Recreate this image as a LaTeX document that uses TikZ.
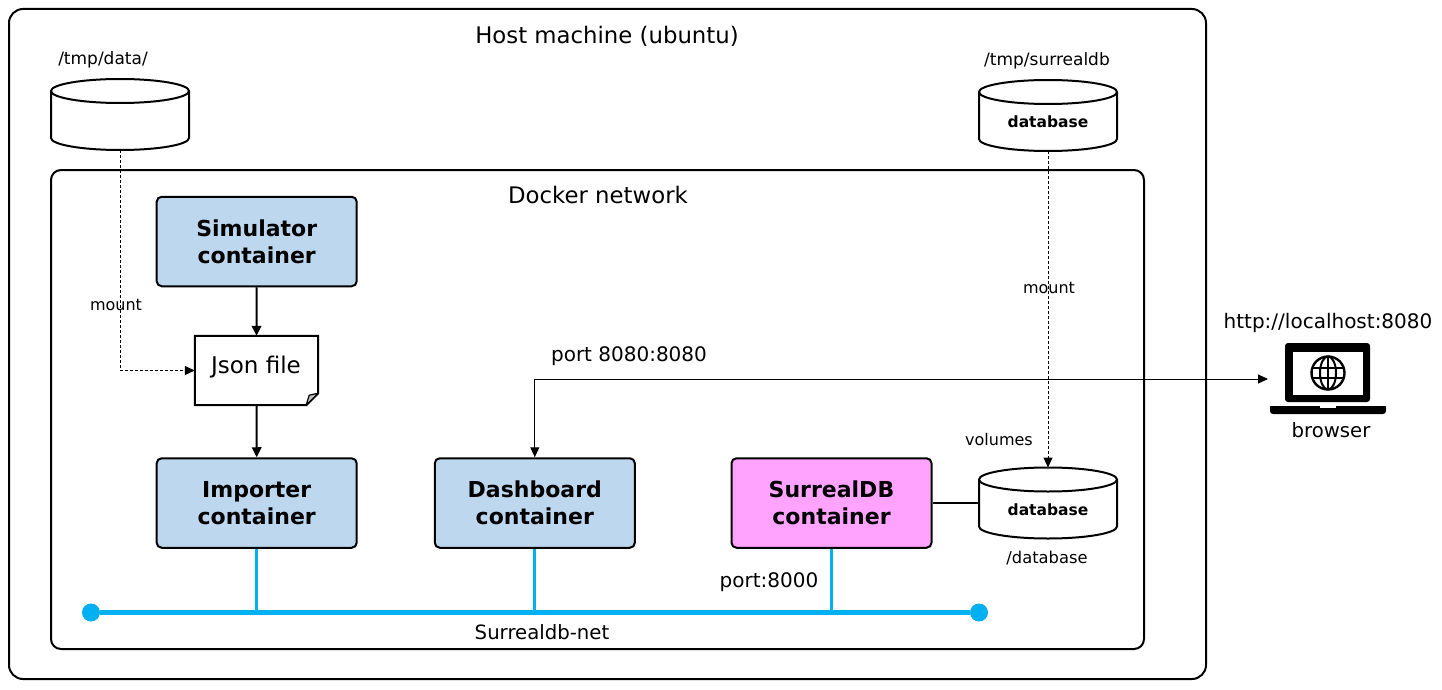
\documentclass[tikz,border=0pt]{standalone}
\usepackage{fontspec}
\setmainfont{DejaVu Sans}
\usetikzlibrary{arrows.meta,calc}
\definecolor{boxblue}{HTML}{BDD7EE}
\definecolor{boxpink}{HTML}{FFA3FF}
\definecolor{netblue}{HTML}{00B0F0}
\newcommand{\fsz}[1]{\fontsize{#1}{#1}\selectfont}
\newcommand{\dbdraw}[1]{%
  \draw[dbline] ($(#1.north west)+(0,12)$) -- ($(#1.south west)+(0,-12)$)
    arc[start angle=180,end angle=360,x radius=69pt,y radius=12pt]
    -- ($(#1.north east)+(0,12)$);
  \draw[dbline] ($(#1.north)+(0,12)$) ellipse (69pt and 12pt);
}
\tikzset{
  x=1pt,y=-1pt,
  frame/.style={draw=black,line width=2pt,rounded corners=#1,fill=none},
  conbox/.style={draw=black,line width=2pt,rounded corners=5pt,minimum width=200pt,minimum height=89.5pt,align=center,inner sep=0pt,font=\fsz{22}\bfseries,text=black},
  bluebox/.style={conbox,fill=boxblue},
  pinkbox/.style={conbox,fill=boxpink},
  dbcyl/.style={rectangle,minimum width=138pt,minimum height=71pt,inner sep=0pt,outer sep=0pt},
  dbline/.style={draw=black,line width=2pt,fill=white},
  txt/.style={inner sep=0pt,text=black,font=\fsz{#1}},
  txtb/.style={inner sep=0pt,text=black,font=\fsz{#1}\bfseries},
  arr/.style={-{Triangle[length=10pt,width=9.5pt]},line width=2pt,black},
  thinarr/.style={-{Triangle[length=10pt,width=9pt]},line width=1pt,black},
  dasharr/.style={thinarr,dash pattern=on 3pt off 2pt},
  link/.style={netblue,line width=3pt},
  bus/.style={netblue,line width=5.5pt},
  busend/.style={circle,fill=netblue,minimum size=18pt,inner sep=0pt},
}
\begin{document}
\begin{tikzpicture}
\useasboundingbox (0,0) rectangle (1442,690);
\fill[white] (0,0) rectangle (1442,690);
\draw[frame=14pt] (9,9) rectangle (1206,679);
\draw[frame=10pt] (51,170) rectangle (1144,649);
\node[txt=22.8] (hostlbl) at (607,36) {Host machine (ubuntu)};
\node[txt=22.8] (dockerlbl) at (598,195) {Docker network};
% cylinders
\node[dbcyl] (cdata) at (120,114.5) {};
\node[dbcyl] (csurreal) at (1048,115.5) {};
\node[dbcyl] (cdb) at (1048,503) {};
\dbdraw{cdata}
\dbdraw{csurreal}
\dbdraw{cdb}
\node[txt=17] (ldata) at (103,60) {/tmp/data/};
\node[txt=17] (lsurreal) at (1047,60.5) {/tmp/surrealdb};
\node[txtb=15.5] (tsurreal) at (1048,122) {database};
\node[txtb=15.5] (tdb) at (1048,510) {database};
\node[txt=16.3] (ldb) at (1047,558) {/database};
\node[txt=16] (lvol) at (999,440) {volumes};
% boxes
\node[bluebox] (sim) at (256.7,241.5) {Simulator\\[5pt]container};
\node[bluebox] (imp) at (256.7,503) {Importer\\[5pt]container};
\node[bluebox] (dash) at (534.8,503) {Dashboard\\[5pt]container};
\node[pinkbox] (sur) at (831.5,503) {SurrealDB\\[5pt]container};
% json document
\node[minimum width=123pt,minimum height=69pt,inner sep=0pt] (json) at (256.5,370.5) {};
\draw[black,line width=2pt,fill=white,line join=miter]
  (json.north west) -- (json.north east) -- ($(json.south east)+(0,-12)$)
  -- ($(json.south east)+(-12,0)$) -- (json.south west) -- cycle;
\draw[black,line width=1.2pt,fill=black!25,line join=round]
  ($(json.south east)+(0,-12)$) -- ($(json.south east)+(-9,-10)$) -- ($(json.south east)+(-12,0)$) -- cycle;
\node[txt=23] (jsonlbl) at (256,367) {Json file};
% connectors
\draw[arr] (sim.south) -- (json.north);
\draw[arr] (json.south) -- (imp.north);
\draw[line width=2pt,black] (sur.east) -- (cdb.west);
\draw[dasharr] (cdata.south) |- (json.west);
\draw[dasharr] (csurreal.south) -- (cdb.north);
\node[txt=16] (lm1) at (116,304.5) {mount};
\node[txt=16] (lm2) at (1049,287.5) {mount};
\coordinate (lap) at (1268,379);
\draw[{Triangle[length=10pt,width=9pt]}-{Triangle[length=10pt,width=9pt]},line width=1pt,black] (dash.north) |- (lap);
\node[txt=20] (lport) at (629,356) {port 8080:8080};
\node[txt=20] (lhttp) at (1328,322.5) {http://localhost:8080};
\node[txt=19.7] (lbrowser) at (1331,430) {browser};
% network
\node[busend] (bl) at (91,612.5) {};
\node[busend] (br) at (979,612.5) {};
\draw[bus] (bl) -- (br);
\draw[link] (imp.south) -- (imp.south |- bl);
\draw[link] (dash.south) -- (dash.south |- bl);
\draw[link] (sur.south) -- (sur.south |- bl);
\node[txt=20] (lp8000) at (769,582.5) {port:8000};
\node[txt=19.7] (lnet) at (542,632) {Surrealdb-net};
% laptop
\fill[black,rounded corners=3pt] (1285,402) -- (1285,343) -- (1370,343) -- (1370,402) -- cycle;
\fill[white] (1293,352) rectangle (1363,395);
\fill[black,rounded corners=3pt] (1270,406) -- (1270,414) -- (1386,414) -- (1386,406) -- cycle;
\fill[black] (1270,406) rectangle (1386,410);
\fill[white] (1320,406) rectangle (1336,408);
\draw[black,line width=2.4pt] (1328,373) circle (16.5);
\draw[black,line width=2pt] (1328,373) ellipse (8 and 16.5);
\draw[black,line width=2pt] (1328,356.5) -- (1328,389.5);
\draw[black,line width=2pt] (1312,368) -- (1344,368);
\draw[black,line width=2pt] (1312,378) -- (1344,378);
\end{tikzpicture}
\end{document}
